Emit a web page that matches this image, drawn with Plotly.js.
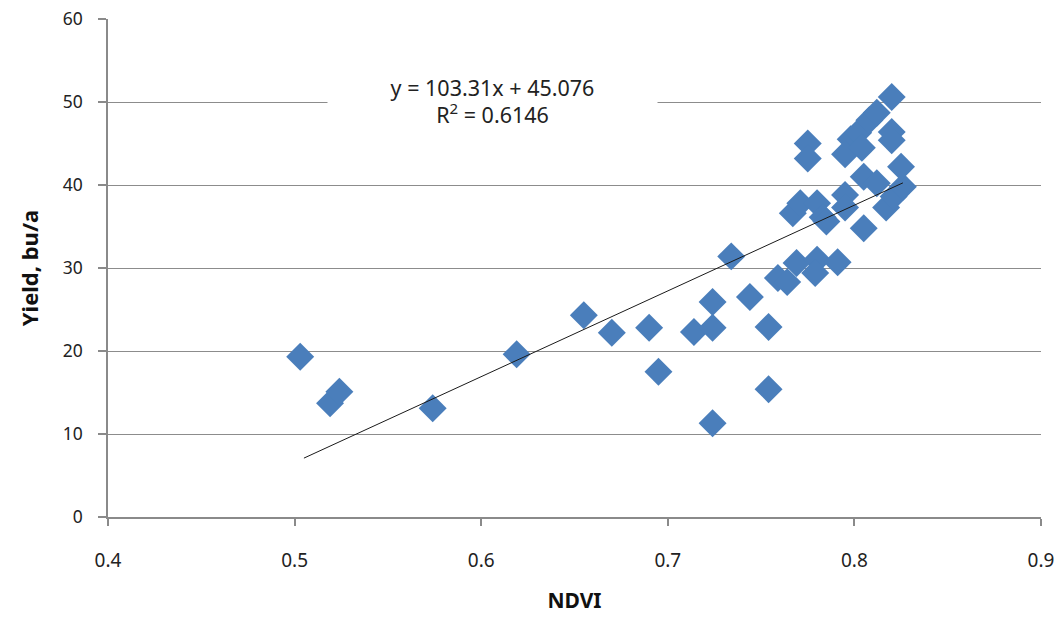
<!DOCTYPE html>
<html>
<head>
<meta charset="utf-8">
<script src="https://cdn.plot.ly/plotly-3.0.1.min.js"></script>
<style>
  html, body { margin: 0; padding: 0; background: #ffffff; }
  #chart { width: 1059px; height: 619px; }
</style>
</head>
<body>
<div id="chart"></div>
<script>
// NDVI values (x) and Yield, bu/a (y)
const ndvi = [
  0.503, 0.519, 0.524, 0.574, 0.619, 0.655, 0.670, 0.690, 0.695, 0.714,
  0.724, 0.724, 0.724, 0.734, 0.744, 0.754, 0.754, 0.759, 0.764, 0.769,
  0.780, 0.779, 0.791, 0.767, 0.771, 0.780, 0.783, 0.785, 0.775, 0.775,
  0.795, 0.795, 0.805, 0.812, 0.817, 0.821, 0.805, 0.826, 0.825, 0.798,
  0.802, 0.795, 0.804, 0.808, 0.812, 0.820, 0.820, 0.820
];
const yieldBuA = [
  19.3, 13.7, 15.1, 13.1, 19.6, 24.3, 22.2, 22.8, 17.5, 22.3,
  25.9, 22.8, 11.3, 31.4, 26.5, 22.9, 15.4, 28.8, 28.3, 30.6,
  31.0, 29.4, 30.7, 36.6, 37.8, 37.8, 36.1, 35.6, 45.0, 43.2,
  38.8, 37.3, 41.0, 40.2, 37.3, 38.6, 34.8, 39.8, 42.2, 45.5,
  46.3, 43.7, 44.5, 47.8, 48.7, 50.6, 46.4, 45.4
];

// Linear trendline as drawn in the reference
const trendSlope = 103.31;
const trendIntercept = -45.076;
const trendX = [0.505, 0.826];
const trendY = trendX.map(v => trendSlope * v + trendIntercept);

const equationText = "y = 103.31x + 45.076<br>R<sup>2</sup> = 0.6146";
const xTicks = [0.4, 0.5, 0.6, 0.7, 0.8, 0.9];
const yTicks = [0, 10, 20, 30, 40, 50, 60];

const font = "Noto Sans, Open Sans, Liberation Sans, sans-serif";

const traces = [
  {
    x: ndvi, y: yieldBuA, type: "scatter", mode: "markers",
    marker: { symbol: "diamond", size: 21.5, color: "#4a7ebb", line: { width: 0 } },
    hoverinfo: "x+y", showlegend: false
  },
  {
    x: trendX, y: trendY, type: "scatter", mode: "lines",
    line: { color: "#1a1a1a", width: 1 },
    hoverinfo: "skip", showlegend: false
  }
];

const layout = {
  width: 1059, height: 619,
  margin: { l: 108, r: 18, t: 19, b: 102 },
  paper_bgcolor: "#ffffff", plot_bgcolor: "#ffffff",
  font: { family: font, size: 17, color: "#222222" },
  showlegend: false,
  xaxis: {
    range: [0.4, 0.9], tickvals: xTicks, ticktext: xTicks.map(v => v.toFixed(1)),
    showgrid: false, zeroline: false,
    showline: true, linecolor: "#8a8a8a", linewidth: 1.5,
    ticks: "outside", ticklen: 7, tickcolor: "#8a8a8a", tickwidth: 1.5,
    ticklabelstandoff: 18,
    tickfont: { family: font, size: 19, color: "#222222" },
    title: { text: "<b>NDVI</b>", font: { family: font, size: 21, color: "#111111" }, standoff: 22 }
  },
  yaxis: {
    range: [0, 60], tickvals: yTicks,
    showgrid: true, gridcolor: "#8c8c8c", gridwidth: 1.2,
    zeroline: false,
    showline: true, linecolor: "#8a8a8a", linewidth: 1.5,
    ticks: "outside", ticklen: 8, tickcolor: "#8a8a8a", tickwidth: 1.5,
    ticklabelstandoff: 12,
    tickfont: { family: font, size: 17.5, color: "#222222" },
    title: { text: "<b>Yield, bu/a</b>", font: { family: font, size: 22, color: "#111111" }, standoff: 18 }
  },
  annotations: [
    {
      x: 0.606, y: 50.1, xref: "x", yref: "y",
      text: equationText, showarrow: false,
      font: { family: font, size: 21.5, color: "#222222" },
      bgcolor: "#ffffff", width: 327, height: 70, align: "center", valign: "middle"
    }
  ]
};

Plotly.newPlot("chart", traces, layout, { displayModeBar: false, responsive: false });
</script>
</body>
</html>
